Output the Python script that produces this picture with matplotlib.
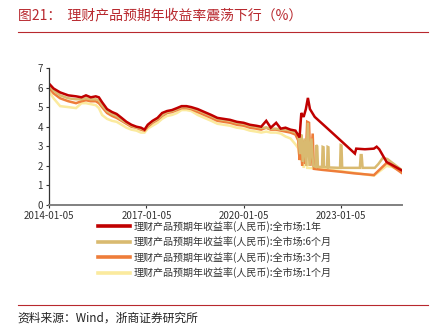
import numpy as np
import pandas as pd
import matplotlib
matplotlib.use('Agg')
import matplotlib.pyplot as plt
import matplotlib.dates as mdates
from matplotlib.lines import Line2D

plt.rcParams['font.family'] = ['Noto Sans CJK SC', 'DejaVu Sans']

# common history (all four series share these dates)
dates_hist = ['2014-01-05', '2014-02-25', '2014-05-10', '2014-08-10', '2014-11-05',
              '2015-01-05', '2015-02-25', '2015-04-20', '2015-06-15', '2015-07-20',
              '2015-08-25', '2015-10-20', '2015-12-15', '2016-02-05', '2016-04-01',
              '2016-05-25', '2016-07-20', '2016-09-15', '2016-11-05', '2016-12-15',
              '2017-01-20', '2017-03-15', '2017-05-10', '2017-07-01', '2017-08-25',
              '2017-10-20', '2017-12-15', '2018-02-05', '2018-04-01', '2018-05-25',
              '2018-08-05', '2018-10-20', '2019-01-05', '2019-03-15', '2019-05-25',
              '2019-08-05', '2019-10-20', '2020-01-05', '2020-03-15', '2020-05-25',
              '2020-07-20', '2020-09-15', '2020-11-05', '2021-01-05', '2021-02-25',
              '2021-04-20', '2021-06-15', '2021-08-10']

y1y_hist = [6.2, 5.95, 5.75, 5.6, 5.55, 5.5, 5.6, 5.5, 5.55, 5.5,
            5.25, 4.9, 4.75, 4.65, 4.45, 4.25, 4.1, 4.0, 3.95, 3.85,
            4.1, 4.3, 4.45, 4.7, 4.8, 4.85, 4.95, 5.05, 5.05, 5.0,
            4.9, 4.75, 4.6, 4.45, 4.4, 4.35, 4.25, 4.2, 4.1, 4.05,
            4.0, 4.3, 3.95, 4.2, 3.9, 3.95, 3.85, 3.8]
y6m_hist = [6.1, 5.85, 5.6, 5.45, 5.4, 5.4, 5.45, 5.4, 5.4, 5.35,
            5.1, 4.8, 4.65, 4.55, 4.35, 4.2, 4.05, 3.95, 3.9, 3.85,
            4.05, 4.25, 4.4, 4.6, 4.75, 4.8, 4.9, 5.0, 5.0, 4.95,
            4.85, 4.7, 4.55, 4.4, 4.35, 4.3, 4.2, 4.15, 4.05, 4.0,
            3.95, 3.95, 3.9, 3.9, 3.85, 3.85, 3.8, 3.7]
y3m_hist = [6.0, 5.7, 5.45, 5.3, 5.2, 5.3, 5.35, 5.3, 5.3, 5.2,
            5.0, 4.7, 4.55, 4.45, 4.3, 4.15, 4.0, 3.95, 3.85, 3.8,
            4.0, 4.2, 4.35, 4.55, 4.7, 4.75, 4.85, 4.95, 4.95, 4.9,
            4.75, 4.6, 4.45, 4.3, 4.25, 4.2, 4.1, 4.05, 3.95, 3.9,
            3.85, 3.95, 3.85, 3.85, 3.8, 3.75, 3.7, 3.6]
y1m_hist = [5.8, 5.45, 5.05, 5.0, 4.95, 5.2, 5.2, 5.15, 5.1, 4.95,
            4.6, 4.4, 4.3, 4.25, 4.1, 3.95, 3.85, 3.8, 3.7, 3.7,
            3.9, 4.05, 4.2, 4.4, 4.55, 4.6, 4.7, 4.85, 4.85, 4.8,
            4.6, 4.45, 4.3, 4.15, 4.1, 4.05, 3.95, 3.9, 3.8, 3.75,
            3.7, 3.75, 3.7, 3.7, 3.65, 3.5, 3.4, 3.1]

# tails after 2021-08 (series diverge and get spiky)
d1y_tail = ['2021-09-25', '2021-10-15', '2021-11-10', '2021-12-05', '2021-12-28',
            '2022-01-20', '2022-03-15', '2022-09-01', '2023-03-01', '2023-06-10',
            '2023-06-25', '2023-10-01', '2024-01-10', '2024-02-10', '2024-03-10',
            '2024-06-01', '2024-08-01', '2024-11-15']
y1y_tail = [3.45, 4.7, 4.5, 4.9, 5.47, 4.9, 4.5, 3.8, 3.05, 2.63,
            2.88, 2.85, 2.88, 2.98, 2.85, 2.2, 2.05, 1.78]

d6m_tail = ['2021-09-10', '2021-10-01', '2021-10-15', '2021-11-01', '2021-11-20',
            '2021-12-10', '2021-12-28', '2022-01-15', '2022-02-05', '2022-02-25',
            '2022-03-25', '2022-04-01', '2022-04-12', '2022-04-20',
            '2022-06-05', '2022-06-12', '2022-06-22', '2022-06-28',
            '2022-08-01', '2022-08-07', '2022-08-16', '2022-08-22',
            '2022-12-25', '2023-01-01', '2023-01-10', '2023-01-18',
            '2023-08-05', '2023-08-15', '2023-08-25', '2023-09-05',
            '2024-01-20', '2024-03-01', '2024-04-20', '2024-06-10', '2024-11-15']
y6m_tail = [3.6, 2.6, 3.6, 2.2, 3.4, 2.0, 4.2, 2.0, 3.4, 2.0,
            1.95, 3.06, 3.0, 1.95,
            1.95, 2.97, 2.95, 1.95,
            1.92, 2.97, 2.95, 1.92,
            1.9, 3.06, 3.04, 1.9,
            1.9, 2.55, 2.55, 1.9,
            1.9, 2.1, 2.41, 2.35, 1.8]

d3m_tail = ['2021-09-10', '2021-09-25', '2021-10-10', '2021-10-25', '2021-11-15',
            '2021-12-01', '2021-12-20', '2022-01-10', '2022-01-25', '2022-02-20',
            '2022-03-05', '2022-06-01', '2023-01-01', '2023-06-01', '2024-01-10',
            '2024-06-01', '2024-07-15', '2024-11-15']
y3m_tail = [3.3, 2.3, 3.0, 2.0, 3.3, 2.1, 4.25, 4.2, 2.0, 3.65,
            1.85, 1.8, 1.7, 1.62, 1.53, 2.15, 2.05, 1.65]

d1m_tail = ['2021-09-10', '2021-10-01', '2021-10-20', '2021-11-10', '2021-12-01',
            '2021-12-20', '2022-06-01', '2023-06-01', '2024-01-10', '2024-06-01',
            '2024-08-01', '2024-11-15']
y1m_tail = [2.9, 2.3, 3.0, 1.9, 2.5, 1.9, 1.85, 1.65, 1.5, 2.0,
            1.95, 1.72]

labels = ['理财产品预期年收益率(人民币):全市场:1年',
          '理财产品预期年收益率(人民币):全市场:6个月',
          '理财产品预期年收益率(人民币):全市场:3个月',
          '理财产品预期年收益率(人民币):全市场:1个月']
colors = ['#C00000', '#D9BA70', '#EE7D3A', '#FBEA9E']
xticks = ['2014-01-05', '2017-01-05', '2020-01-05', '2023-01-05']

series = [
    (dates_hist + d1y_tail, y1y_hist + y1y_tail),
    (dates_hist + d6m_tail, y6m_hist + y6m_tail),
    (dates_hist + d3m_tail, y3m_hist + y3m_tail),
    (dates_hist + d1m_tail, y1m_hist + y1m_tail),
]

fig = plt.figure(figsize=(4.34, 3.25), dpi=100)
ax = fig.add_axes([0.113, 0.369, 0.813, 0.422])

# draw 1M first so 1Y ends up on top
for (d, v), c in list(zip(series, colors))[::-1]:
    ax.plot(pd.to_datetime(d), v, color=c, lw=1.8, solid_joinstyle='miter')

ax.set_ylim(0, 7)
ax.set_yticks(range(0, 8))
ax.set_xlim(pd.Timestamp('2014-01-05'), pd.Timestamp('2024-11-20'))
ax.set_xticks(pd.to_datetime(xticks))
ax.xaxis.set_major_formatter(mdates.DateFormatter('%Y-%m-%d'))
ax.tick_params(labelsize=7, length=2.5, width=0.8, colors='#333333', pad=2)
for s in ['top', 'right']:
    ax.spines[s].set_visible(False)
ax.spines['left'].set_color('#333333')
ax.spines['left'].set_linewidth(0.9)
ax.spines['bottom'].set_color('#808080')
ax.spines['bottom'].set_linewidth(1.4)

handles = [Line2D([0], [0], color=c, lw=2.6) for c in colors]
leg = fig.legend(handles, labels, loc='upper left', bbox_to_anchor=(0.225, 0.32),
                 frameon=False, fontsize=7.2, handlelength=3.2, handletextpad=0.4,
                 labelspacing=0.45, borderaxespad=0, borderpad=0)
for t in leg.get_texts():
    t.set_color('#333333')

red = '#B8282E'
fig.text(0.041, 0.953, '图21：  理财产品预期年收益率震荡下行（%）', color=red,
         fontsize=10, va='center', ha='left')
fig.add_artist(Line2D([0.041, 0.986], [0.902, 0.902], color=red, lw=0.8))
fig.add_artist(Line2D([0.041, 0.986], [0.062, 0.062], color=red, lw=0.8))
fig.text(0.041, 0.022, '资料来源：Wind，浙商证券研究所', color='#222222',
         fontsize=8.5, va='center', ha='left')

fig.savefig('out.png', dpi=100)
